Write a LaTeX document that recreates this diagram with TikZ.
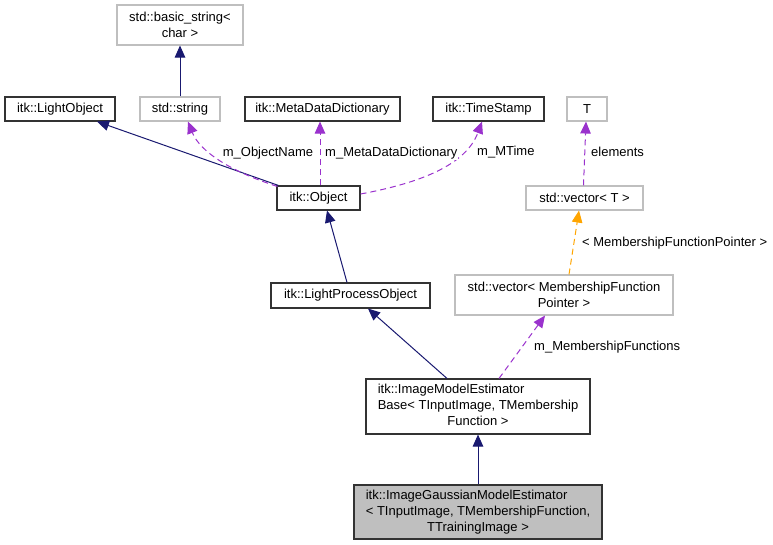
\documentclass[tikz,border=0pt]{standalone}
\usepackage{fontspec}
\setmainfont{Liberation Sans}
\usetikzlibrary{arrows.meta}
\definecolor{navy}{HTML}{191970}
\definecolor{purp}{HTML}{9A32CD}
\definecolor{orng}{HTML}{FFA500}
\definecolor{greyb}{HTML}{BFBFBF}
\begin{document}
\begin{tikzpicture}[x=1pt,y=-1pt,
  every node/.style={font=\fontsize{13}{16}\selectfont, inner sep=0pt},
  cls/.style={draw=black!80, line width=1.1pt, fill=white, align=center},
  ext/.style={draw=greyb, line width=1.1pt, fill=white, align=center},
  inh/.style={draw=navy, line width=1pt, -{Triangle[length=12pt,width=10.5pt]}},
  usa/.style={draw=purp, line width=1pt, dash pattern=on 6pt off 4pt, -{Triangle[length=12pt,width=10.5pt]}},
  tmpl/.style={draw=orng, line width=1pt, dash pattern=on 6pt off 4pt, -{Triangle[length=12pt,width=10.5pt]}},
  lbl/.style={anchor=west, fill=white, inner sep=1pt}]
\useasboundingbox (0,0) rectangle (773,545);
% nodes
\node[ext, minimum width=126, minimum height=40] (bs) at (180,25) {std::basic\_string<\\char >};
\node[cls, minimum width=110, minimum height=24] (lo) at (60,109) {itk::LightObject};
\node[ext, minimum width=80, minimum height=24] (ss) at (180,109) {std::string};
\node[cls, minimum width=155, minimum height=24] (mdd) at (322.5,109) {itk::MetaDataDictionary};
\node[cls, minimum width=111, minimum height=24] (ts) at (488.5,109) {itk::TimeStamp};
\node[ext, minimum width=40, minimum height=24] (T) at (587,109) {T};
\node[cls, minimum width=83, minimum height=24] (obj) at (318.5,198) {itk::Object};
\node[ext, minimum width=117, minimum height=24] (vt) at (584.5,198) {std::vector< T >};
\node[cls, minimum width=159, minimum height=25] (lpo) at (350.5,295.5) {itk::LightProcessObject};
\node[ext, minimum width=218, minimum height=40] (vmf) at (564,295) {std::vector< MembershipFunction\\Pointer >};
\node[cls, minimum width=224, minimum height=55] (base) at (478,406.5) {\begin{tabular}{@{}l@{}}itk::ImageModelEstimator\\Base< TInputImage, TMembership\\\multicolumn{1}{@{}c@{}}{Function >}\end{tabular}};
\node[cls, fill=greyb, minimum width=248, minimum height=54] (gauss) at (478,512) {\begin{tabular}{@{}l@{}}itk::ImageGaussianModelEstimator\\< TInputImage, TMembershipFunction,\\\multicolumn{1}{@{}c@{}}{TTrainingImage >}\end{tabular}};
% edges
\draw[inh] (ss.north) -- (bs.south);
\draw[inh] ([xshift=2pt]obj.north west) -- ([xshift=37pt]lo.south);
\draw[usa] ([xshift=1pt,yshift=-1pt]obj.north west) .. controls (232,172) and (200,152) .. ([xshift=8pt]ss.south);
\draw[usa] ([xshift=1.5pt]obj.north) -- ([xshift=-2.5pt]mdd.south);
\draw[usa] ([yshift=4pt]obj.east) .. controls (420,183) and (466,165) .. ([xshift=-6.5pt]ts.south);
\draw[inh] ([xshift=-3.5pt]lpo.north) -- ([xshift=8.5pt]obj.south);
\draw[usa] ([xshift=-1pt]vt.north) -- ([xshift=-1pt]T.south);
\draw[tmpl] ([xshift=5pt]vmf.north) -- ([xshift=-5.5pt]vt.south);
\draw[inh] ([xshift=-31pt]base.north) -- ([xshift=17.5pt]lpo.south);
\draw[usa] ([xshift=21pt]base.north) -- ([xshift=-19pt]vmf.south);
\draw[inh] (gauss.north) -- (base.south);
% labels
\node[anchor=center] (l1) at (268,153) {m\_ObjectName};
\node[lbl] (l2) at (324,153) {m\_MetaDataDictionary};
\node[lbl] (l3) at (476,152) {m\_MTime};
\node[lbl] (l4) at (590,152) {elements};
\node[lbl] (l5) at (581,243) {< MembershipFunctionPointer >};
\node[lbl] (l6) at (533,347) {m\_MembershipFunctions};
\end{tikzpicture}
\end{document}
